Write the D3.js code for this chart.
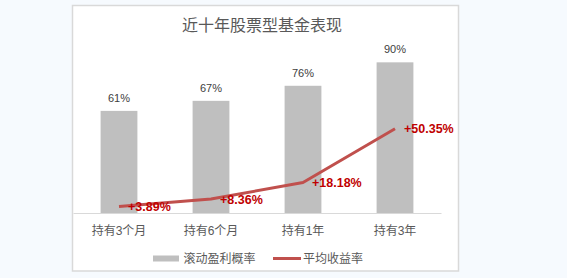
<!DOCTYPE html>
<html>
<head>
<meta charset="utf-8">
<script src="https://cdn.jsdelivr.net/npm/d3@7"></script>
<style>
  html, body { margin: 0; padding: 0; background: #f6fafe; }
  svg { display: block; font-family: "Liberation Sans", "Noto Sans CJK SC", sans-serif; }
</style>
</head>
<body>
<div id="chart"></div>
<script>
// data
var categories = ['持有3个月', '持有6个月', '持有1年', '持有3年'];
var winRate = [61, 67, 76, 90];            // 滚动盈利概率 (%)
var avgReturn = [3.89, 8.36, 18.18, 50.35]; // 平均收益率 (%)
var barLabels = ['61%', '67%', '76%', '90%'];
var lineLabels = ['+3.89%', '+8.36%', '+18.18%', '+50.35%'];
var legendNames = ['滚动盈利概率', '平均收益率'];
var title = '近十年股票型基金表现';

var W = 567, H = 278;
var barColor = '#bfbfbf', lineColor = '#c0504d', labelRed = '#c00000', textGray = '#595959';

var svg = d3.select('#chart').append('svg')
    .attr('width', W)
    .attr('height', H);

// chart box
svg.append('rect')
    .attr('x', 72.5).attr('y', 5.5)
    .attr('width', 386).attr('height', 265.5)
    .attr('fill', '#fff')
    .attr('stroke', '#d9d9d9')
    .attr('stroke-width', 1.5);

var x = d3.scaleBand()
    .domain(categories)
    .range([73, 441])
    .paddingInner(0.6)
    .paddingOuter(0.3);

var y = d3.scaleLinear()
    .domain([0, 100])
    .range([213, 45.6]);

svg.append('text')
    .attr('x', 262).attr('y', 31)
    .attr('text-anchor', 'middle')
    .attr('fill', textGray)
    .style('font-size', '16px')
    .text(title);

// bars
svg.selectAll('rect.bar')
    .data(winRate)
  .enter().append('rect')
    .attr('class', 'bar')
    .attr('x', function(d, i) { return x(categories[i]); })
    .attr('y', function(d) { return y(d); })
    .attr('width', x.bandwidth())
    .attr('height', function(d) { return y(0) - y(d); })
    .attr('fill', barColor);

svg.selectAll('text.barlabel')
    .data(winRate)
  .enter().append('text')
    .attr('class', 'barlabel')
    .attr('x', function(d, i) { return x(categories[i]) + x.bandwidth() / 2; })
    .attr('y', function(d) { return y(d) - 9; })
    .attr('text-anchor', 'middle')
    .attr('fill', '#404040')
    .style('font-size', '11px')
    .text(function(d, i) { return barLabels[i]; });

// x axis
var xAxis = d3.axisBottom(x).tickSize(0).tickSizeOuter(0).tickPadding(13);
var gx = svg.append('g')
    .attr('transform', 'translate(0,' + y(0) + ')')
    .call(xAxis);
gx.select('.domain').attr('stroke', '#d9d9d9').attr('stroke-width', 1.2);
gx.selectAll('text')
    .attr('fill', textGray)
    .style('font-size', '12px')
    .style('font-family', '"Liberation Sans", "Noto Sans CJK SC", sans-serif');

// line
var line = d3.line()
    .x(function(d, i) { return x(categories[i]) + x.bandwidth() / 2; })
    .y(function(d) { return y(d); });

svg.append('path')
    .datum(avgReturn)
    .attr('d', line)
    .attr('fill', 'none')
    .attr('stroke', lineColor)
    .attr('stroke-width', 3)
    .attr('stroke-linejoin', 'round');

svg.selectAll('text.linelabel')
    .data(avgReturn)
  .enter().append('text')
    .attr('class', 'linelabel')
    .attr('x', function(d, i) { return x(categories[i]) + x.bandwidth() / 2 + 9; })
    .attr('y', function(d) { return y(d); })
    .attr('dy', '0.36em')
    .attr('fill', labelRed)
    .style('font-size', '12.5px')
    .style('font-weight', 'bold')
    .text(function(d, i) { return lineLabels[i]; });

// legend
var legend = svg.append('g').attr('transform', 'translate(153,258.5)');
legend.append('rect')
    .attr('x', 0).attr('y', -3)
    .attr('width', 26).attr('height', 6)
    .attr('fill', barColor);
legend.append('text')
    .attr('x', 30.5).attr('y', 0).attr('dy', '0.36em')
    .attr('fill', textGray)
    .style('font-size', '12px')
    .text(legendNames[0]);
legend.append('line')
    .attr('x1', 120).attr('x2', 148)
    .attr('y1', 0).attr('y2', 0)
    .attr('stroke', lineColor)
    .attr('stroke-width', 3);
legend.append('text')
    .attr('x', 150).attr('y', 0).attr('dy', '0.36em')
    .attr('fill', textGray)
    .style('font-size', '12px')
    .text(legendNames[1]);
</script>
</body>
</html>
